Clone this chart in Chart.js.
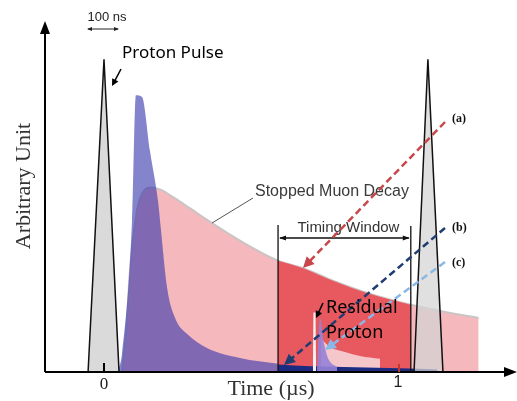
<!DOCTYPE html>
<html>
<head>
<meta charset="utf-8">
<script src="https://cdn.jsdelivr.net/npm/chart.js@4.4.0/dist/chart.umd.min.js"></script>
<style>
  html, body { margin: 0; padding: 0; background: #fff; }
  #wrap { width: 517px; height: 401px; }
</style>
</head>
<body>
<div id="wrap"><canvas id="pulseChart" width="517" height="401"></canvas></div>
<script>
// time in µs, signal in arbitrary units (proton pulse peak = 100)
const tDecay = [0.061, 0.075, 0.088, 0.102, 0.115, 0.136, 0.156, 0.19, 0.241, 0.292, 0.363, 0.461, 0.59, 0.675, 0.776, 0.892, 1.04, 1.156, 1.27];
const vDecay = [0, 13.1, 32.4, 45.2, 53.2, 58, 59, 58.4, 55.5, 52.3, 47.8, 42.0, 35.6, 33.2, 29.2, 25.3, 21.5, 19.2, 17.3];

const tMuon = [0.047, 0.061, 0.095, 0.108, 0.129, 0.156, 0.183, 0.19, 0.214, 0.241, 0.281, 0.349, 0.461, 0.59];
const vMuon = [0, 5.8, 48.4, 88.5, 87.9, 70.6, 54.8, 48.4, 26.9, 17.3, 12.2, 7.7, 4.5, 2.6];

const tNavy = [0.59, 0.70, 0.85, 1.0, 1.13];
const vNavy = [2.4, 1.8, 1.5, 1.2, 0.8];

const tSpike = [0.708, 0.710, 0.717, 0.719];
const vSpike = [0, 19, 19, 0];

const tResid = [0.722, 0.732, 0.746, 0.759, 0.790];
const vResid = [0, 17.3, 9, 4.5, 1.5];

const tTail = [0.736, 0.766, 0.817, 0.868, 0.936];
const vTail = [10.6, 8.0, 6.4, 5.1, 4.2];

const tPulse0 = [-0.054, 0, 0.051];
const tPulse1 = [1.051, 1.098, 1.149];
const vPulse = [0, 100, 0];

const winStart = 0.59;
const winEnd = 1.04;
const xTicks = [0, 1];

function pts(ts, vs) {
    return ts.map((t, i) => ({ x: t, y: vs[i] }));
}

const winIdx = tDecay.map((t, i) => i).filter(i => tDecay[i] >= winStart && tDecay[i] <= winEnd);
const tWin = winIdx.map(i => tDecay[i]);
const vWin = winIdx.map(i => vDecay[i]);

function area(label, data, fill, order, extra) {
    return Object.assign({
        label: label,
        data: data,
        backgroundColor: fill,
        borderWidth: 0,
        pointRadius: 0,
        fill: 'origin',
        order: order
    }, extra || {});
}

function arrow(ctx, x1, y1, x2, y2, color, width, dash, head) {
    const ang = Math.atan2(y2 - y1, x2 - x1);
    const hl = head || 9;
    const hw = hl * 0.5;
    ctx.save();
    ctx.strokeStyle = color;
    ctx.fillStyle = color;
    ctx.lineWidth = width;
    ctx.setLineDash(dash || []);
    ctx.beginPath();
    ctx.moveTo(x1, y1);
    ctx.lineTo(x2 - Math.cos(ang) * hl * 0.8, y2 - Math.sin(ang) * hl * 0.8);
    ctx.stroke();
    ctx.setLineDash([]);
    ctx.beginPath();
    ctx.moveTo(x2, y2);
    ctx.lineTo(x2 - Math.cos(ang) * hl + Math.sin(ang) * hw, y2 - Math.sin(ang) * hl - Math.cos(ang) * hw);
    ctx.lineTo(x2 - Math.cos(ang) * hl - Math.sin(ang) * hw, y2 - Math.sin(ang) * hl + Math.cos(ang) * hw);
    ctx.closePath();
    ctx.fill();
    ctx.restore();
}

const decorations = {
    id: 'decorations',
    afterDraw(chart) {
        const ctx = chart.ctx;
        const xs = chart.scales.x;
        const ys = chart.scales.y;
        const X = t => xs.getPixelForValue(t);
        const area = chart.chartArea;
        const x0 = area.left, y0 = area.bottom;

        ctx.save();
        // axes
        ctx.strokeStyle = '#000';
        ctx.lineWidth = 2;
        ctx.beginPath();
        ctx.moveTo(x0, y0);
        ctx.lineTo(x0, area.top - 2);
        ctx.moveTo(x0, y0);
        ctx.lineTo(area.right - 6, y0);
        ctx.stroke();
        ctx.fillStyle = '#000';
        ctx.beginPath();
        ctx.moveTo(x0, area.top - 7);
        ctx.lineTo(x0 - 5, area.top + 6);
        ctx.lineTo(x0 + 5, area.top + 6);
        ctx.closePath();
        ctx.fill();
        ctx.beginPath();
        ctx.moveTo(area.right, y0);
        ctx.lineTo(area.right - 13, y0 - 5);
        ctx.lineTo(area.right - 13, y0 + 5);
        ctx.closePath();
        ctx.fill();

        // tick marks
        ctx.lineWidth = 2;
        ctx.strokeStyle = '#000';
        ctx.beginPath();
        ctx.moveTo(X(xTicks[0]), y0);
        ctx.lineTo(X(xTicks[0]), y0 - 9);
        ctx.stroke();
        ctx.strokeStyle = '#c0392b';
        ctx.beginPath();
        ctx.moveTo(X(xTicks[1]), y0);
        ctx.lineTo(X(xTicks[1]), y0 - 8);
        ctx.stroke();

        // tick labels
        ctx.fillStyle = '#222';
        ctx.textAlign = 'center';
        ctx.textBaseline = 'middle';
        ctx.font = '17px "Liberation Serif"';
        ctx.fillText(String(xTicks[0]), X(xTicks[0]), 385);
        ctx.font = '16px "Liberation Sans"';
        ctx.fillText(String(xTicks[1]), X(xTicks[1]) - 1, 383);

        // axis titles
        ctx.font = '22px "Liberation Serif"';
        ctx.fillStyle = '#333';
        ctx.fillText('Time (\u00b5s)', 271, 389);
        ctx.save();
        ctx.translate(24, 186);
        ctx.rotate(-Math.PI / 2);
        ctx.fillText('Arbitrary Unit', 0, 0);
        ctx.restore();

        // 100 ns scale bar
        ctx.font = '13px "Liberation Sans"';
        ctx.fillStyle = '#222';
        ctx.fillText('100 ns', 107, 17);
        ctx.lineWidth = 1;
        ctx.strokeStyle = '#222';
        ctx.beginPath();
        ctx.moveTo(88, 29);
        ctx.lineTo(118, 29);
        ctx.stroke();
        ctx.beginPath();
        ctx.moveTo(87, 29); ctx.lineTo(92, 27); ctx.lineTo(92, 31); ctx.closePath();
        ctx.moveTo(119, 29); ctx.lineTo(114, 27); ctx.lineTo(114, 31); ctx.closePath();
        ctx.fill();

        // proton pulse label
        ctx.font = '17px "Noto Sans"';
        ctx.textAlign = 'left';
        ctx.fillStyle = '#000';
        ctx.fillText('Proton Pulse', 122, 53);
        arrow(ctx, 121, 69, 112, 86, '#000', 1.5, null, 7);

        // stopped muon decay label
        ctx.font = '16px "Liberation Sans"';
        ctx.fillStyle = '#3a3a3a';
        ctx.fillText('Stopped Muon Decay', 255, 192);
        ctx.strokeStyle = '#555';
        ctx.lineWidth = 1;
        ctx.beginPath();
        ctx.moveTo(253, 198);
        ctx.lineTo(212, 223);
        ctx.stroke();

        // timing window
        const wl = X(winStart), wr = X(winEnd);
        ctx.strokeStyle = '#111';
        ctx.lineWidth = 1.3;
        ctx.beginPath();
        ctx.moveTo(wl, y0);
        ctx.lineTo(wl, 225);
        ctx.moveTo(wr, y0);
        ctx.lineTo(wr, 226);
        ctx.moveTo(wl + 2, 238);
        ctx.lineTo(wr - 2, 238);
        ctx.stroke();
        ctx.fillStyle = '#111';
        ctx.beginPath();
        ctx.moveTo(wl + 1, 238); ctx.lineTo(wl + 8, 235.5); ctx.lineTo(wl + 8, 240.5); ctx.closePath();
        ctx.moveTo(wr - 1, 238); ctx.lineTo(wr - 8, 235.5); ctx.lineTo(wr - 8, 240.5); ctx.closePath();
        ctx.fill();
        ctx.font = '15px "Liberation Sans"';
        ctx.fillStyle = '#333';
        ctx.textAlign = 'center';
        ctx.fillText('Timing Window', (wl + wr) / 2 + 4, 228);

        // dashed arrows
        arrow(ctx, 445, 122, 303, 268, '#c8474a', 2.5, [7, 4], 11);
        arrow(ctx, 445, 228, 284, 365, '#1f3d70', 2.5, [7, 4], 11);
        arrow(ctx, 445, 262, 325, 350, '#8ab8e6', 2.5, [7, 4], 11);
        ctx.font = 'bold 12px "Liberation Serif"';
        ctx.fillStyle = '#111';
        ctx.textAlign = 'left';
        ctx.fillText('(a)', 452, 119);
        ctx.fillText('(b)', 452, 228);
        ctx.fillText('(c)', 452, 263);

        // residual proton
        ctx.font = '18px "Noto Sans"';
        ctx.fillStyle = '#000';
        ctx.fillText('Residual', 326, 308);
        ctx.fillText('Proton', 326, 333);
        arrow(ctx, 323, 303, 316, 318, '#000', 1.5, null, 7);
        ctx.restore();
    }
};

new Chart(document.getElementById('pulseChart'), {
    type: 'line',
    data: {
        datasets: [
            area('Proton pulse 2', pts(tPulse1, vPulse), 'rgba(212,212,212,0.72)', 1,
                { borderColor: '#111', borderWidth: 1.5 }),
            area('Proton pulse 1', pts(tPulse0, vPulse), '#dadada', 2,
                { borderColor: '#111', borderWidth: 1.5 }),
            area('Residual muon', pts(tResid, vResid), 'rgba(150,130,215,0.9)', 3,
                { cubicInterpolationMode: 'monotone' }),
            area('Residual proton', pts(tSpike, vSpike), '#f5f1f1', 4),
            area('Tail in window', pts(tNavy, vNavy), '#1c2a80', 5,
                { cubicInterpolationMode: 'monotone' }),
            area('Muon pulse', pts(tMuon, vMuon), 'rgba(50,50,170,0.6)', 6,
                { cubicInterpolationMode: 'monotone' }),
            area('Residual decay', pts(tTail, vTail), '#f5c6ca', 7,
                { cubicInterpolationMode: 'monotone' }),
            area('Timing window', pts(tWin, vWin), '#e8585f', 8,
                { cubicInterpolationMode: 'monotone' }),
            area('Stopped muon decay', pts(tDecay, vDecay), '#f5b8bd', 9,
                { cubicInterpolationMode: 'monotone', borderColor: '#cbc4c5', borderWidth: 2 })
        ]
    },
    options: {
        responsive: false,
        animation: false,
        layout: { padding: { left: 45, right: 0, top: 28, bottom: 29 } },
        plugins: {
            legend: { display: false },
            tooltip: { enabled: false }
        },
        scales: {
            x: { type: 'linear', min: -0.2, max: 1.4, display: false },
            y: { type: 'linear', min: 0, max: 110, display: false }
        }
    },
    plugins: [decorations]
});
</script>
</body>
</html>
